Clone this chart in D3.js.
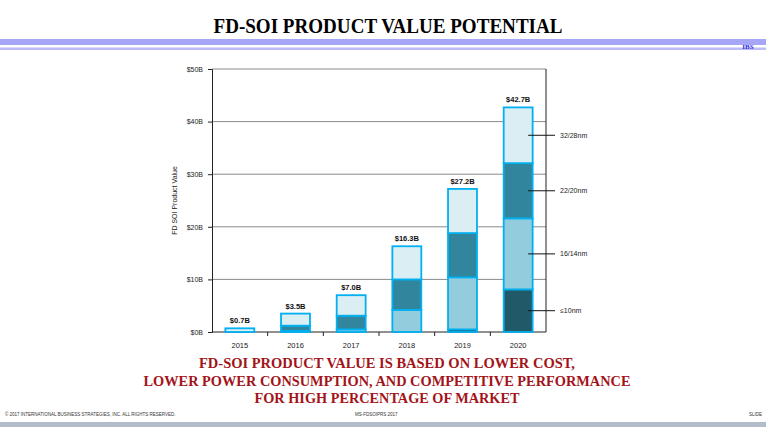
<!DOCTYPE html>
<html>
<head>
<meta charset="utf-8">
<script src="https://cdn.jsdelivr.net/npm/d3@7"></script>
<style>
  body { margin: 0; background: #fff; }
  svg { display: block; }
  .tick-label { font-family: "Liberation Sans", Arial, sans-serif; font-size: 7px; fill: #222; }
  .val-label { font-family: "Liberation Sans", Arial, sans-serif; font-size: 7.5px; font-weight: bold; fill: #111; }
</style>
</head>
<body>
<svg id="chart"></svg>
<script>
// data
const years = ["2015", "2016", "2017", "2018", "2019", "2020"];
const nodes = ["≤10nm", "16/14nm", "22/20nm", "32/28nm"];
const le10 = [0, 0, 0, 0, 0.5, 8.1];
const n16 = [0, 0.2, 0.5, 4.2, 9.9, 13.5];
const n22 = [0, 1.0, 2.6, 5.8, 8.4, 10.5];
const n32 = [0.7, 2.3, 3.9, 6.3, 8.4, 10.6];
const totals = ["$0.7B", "$3.5B", "$7.0B", "$16.3B", "$27.2B", "$42.7B"];
const yTicks = [0, 10, 20, 30, 40, 50];

const colors = ["#215968", "#93cddd", "#31859c", "#daeef3"];

const width = 766;
const height = 431;
const margin = { top: 69, right: 220, bottom: 99, left: 212 };
const innerWidth = width - margin.left - margin.right;
const innerHeight = height - margin.top - margin.bottom;

const svg = d3.select("#chart")
    .attr("width", width)
    .attr("height", height);

// header
svg.append("text")
    .attr("x", 388).attr("y", 33)
    .attr("text-anchor", "middle")
    .attr("textLength", 349)
    .attr("lengthAdjust", "spacingAndGlyphs")
    .style("font-family", "'Liberation Serif', 'Times New Roman', serif")
    .style("font-weight", "bold")
    .style("font-size", "21px")
    .text("FD-SOI PRODUCT VALUE POTENTIAL");

svg.append("rect").attr("x", 0).attr("y", 39).attr("width", width).attr("height", 6).attr("fill", "#a6a6f6");
svg.append("rect").attr("x", 0).attr("y", 47.5).attr("width", width).attr("height", 2.5).attr("fill", "#bcbcf8");
svg.append("text")
    .attr("x", 748).attr("y", 48.5)
    .attr("text-anchor", "middle")
    .style("font-family", "'Liberation Serif', serif")
    .style("font-weight", "bold")
    .style("font-size", "7px")
    .attr("fill", "#2b2bd8")
    .text("IBS");

const chart = svg.append("g")
    .attr("transform", `translate(${margin.left}, ${margin.top})`);

// scales
const x = d3.scaleBand()
    .domain(years)
    .range([0, innerWidth])
    .paddingInner(0.48)
    .paddingOuter(0.24);

const xb = d3.scaleBand().domain(years).range([0, innerWidth]);

const y = d3.scaleLinear()
    .domain([0, 50])
    .range([innerHeight, 0]);

// gridlines
chart.append("g")
    .selectAll("line")
    .data(yTicks.slice(1))
    .enter()
    .append("line")
    .attr("x1", 0).attr("x2", innerWidth)
    .attr("y1", d => y(d)).attr("y2", d => y(d))
    .attr("stroke", "#8a8a8a")
    .attr("stroke-width", 1);

// y axis
const yAxis = d3.axisLeft(y)
    .tickValues(yTicks)
    .tickSize(4)
    .tickFormat(d => `$${d}B`);

const yg = chart.append("g").call(yAxis);
yg.select(".domain").attr("stroke", "#222");
yg.selectAll(".tick line").attr("stroke", "#222");
yg.selectAll("text").attr("class", "tick-label").attr("x", -9);

// x axis with ticks at band edges
chart.append("line")
    .attr("x1", 0).attr("x2", innerWidth)
    .attr("y1", innerHeight).attr("y2", innerHeight)
    .attr("stroke", "#222");

chart.append("g")
    .selectAll("line")
    .data(years.slice(1))
    .enter()
    .append("line")
    .attr("x1", d => xb(d)).attr("x2", d => xb(d))
    .attr("y1", innerHeight).attr("y2", innerHeight + 4)
    .attr("stroke", "#222");

chart.append("g")
    .selectAll("text")
    .data(years)
    .enter()
    .append("text")
    .attr("class", "tick-label")
    .style("font-size", "7.5px")
    .attr("x", d => xb(d) + xb.bandwidth() / 2)
    .attr("y", innerHeight + 16)
    .attr("text-anchor", "middle")
    .text(d => d);

// right border
chart.append("line")
    .attr("x1", innerWidth).attr("x2", innerWidth)
    .attr("y1", 0).attr("y2", innerHeight)
    .attr("stroke", "#222");

// y title
chart.append("text")
    .attr("class", "tick-label")
    .attr("transform", `translate(-35, ${innerHeight / 2}) rotate(-90)`)
    .attr("text-anchor", "middle")
    .text("FD SOI Product Value");

// stacked bars
const rows = years.map((yr, i) => ({
    year: yr,
    "≤10nm": le10[i],
    "16/14nm": n16[i],
    "22/20nm": n22[i],
    "32/28nm": n32[i]
}));

const stacked = d3.stack().keys(nodes)(rows);

chart.selectAll(".layer")
    .data(stacked)
    .enter()
    .append("g")
    .attr("class", "layer")
    .attr("fill", (d, i) => colors[i])
    .selectAll("rect")
    .data(d => d.filter(s => s[1] > s[0]))
    .enter()
    .append("rect")
    .attr("x", d => x(d.data.year))
    .attr("y", d => y(d[1]))
    .attr("width", x.bandwidth())
    .attr("height", d => y(d[0]) - y(d[1]))
    .attr("stroke", "#00b0f0")
    .attr("stroke-width", 1.8);

// total labels
chart.selectAll(".val-label")
    .data(rows)
    .enter()
    .append("text")
    .attr("class", "val-label")
    .attr("x", d => x(d.year) + x.bandwidth() / 2)
    .attr("y", (d, i) => y(le10[i] + n16[i] + n22[i] + n32[i]) - 5)
    .attr("text-anchor", "middle")
    .text((d, i) => totals[i]);

// leader labels on last bar
const last = stacked.map(s => s[s.length - 1]);
const lx = x("2020") + x.bandwidth() / 2 + 10;

chart.selectAll(".leader")
    .data(last)
    .enter()
    .append("line")
    .attr("x1", lx).attr("x2", innerWidth + 9)
    .attr("y1", d => y((d[0] + d[1]) / 2))
    .attr("y2", d => y((d[0] + d[1]) / 2))
    .attr("stroke", "#111")
    .attr("stroke-width", 1);

chart.selectAll(".leader-label")
    .data(last)
    .enter()
    .append("text")
    .attr("class", "tick-label")
    .attr("x", innerWidth + 14)
    .attr("y", d => y((d[0] + d[1]) / 2) + 2.5)
    .text((d, i) => nodes[i]);

// bottom message
const msg = [
    "FD-SOI PRODUCT VALUE IS BASED ON LOWER COST,",
    "LOWER POWER CONSUMPTION, AND COMPETITIVE PERFORMANCE",
    "FOR HIGH PERCENTAGE OF MARKET"
];
const msgWidth = [376, 487, 265];
svg.append("g")
    .selectAll("text")
    .data(msg)
    .enter()
    .append("text")
    .attr("x", 387)
    .attr("y", (d, i) => 368 + i * 17.5)
    .attr("text-anchor", "middle")
    .attr("textLength", (d, i) => msgWidth[i])
    .attr("lengthAdjust", "spacingAndGlyphs")
    .style("font-family", "'Liberation Serif', 'Times New Roman', serif")
    .style("font-weight", "bold")
    .style("font-size", "15px")
    .attr("fill", "#a3141a")
    .text(d => d);

// footer
const foot = svg.append("g")
    .style("font-family", "'Liberation Sans', Arial, sans-serif")
    .style("font-size", "4.5px")
    .attr("fill", "#333");
foot.append("text").attr("x", 5).attr("y", 416).text("© 2017 INTERNATIONAL BUSINESS STRATEGIES, INC. ALL RIGHTS RESERVED.");
foot.append("text").attr("x", 355).attr("y", 416).text("MS-FDSOIPRS 2017");
foot.append("text").attr("x", 762).attr("y", 416).attr("text-anchor", "end").text("SLIDE");

svg.append("rect").attr("x", 0).attr("y", 422).attr("width", width).attr("height", 5).attr("fill", "#b3bccb");
</script>
</body>
</html>
